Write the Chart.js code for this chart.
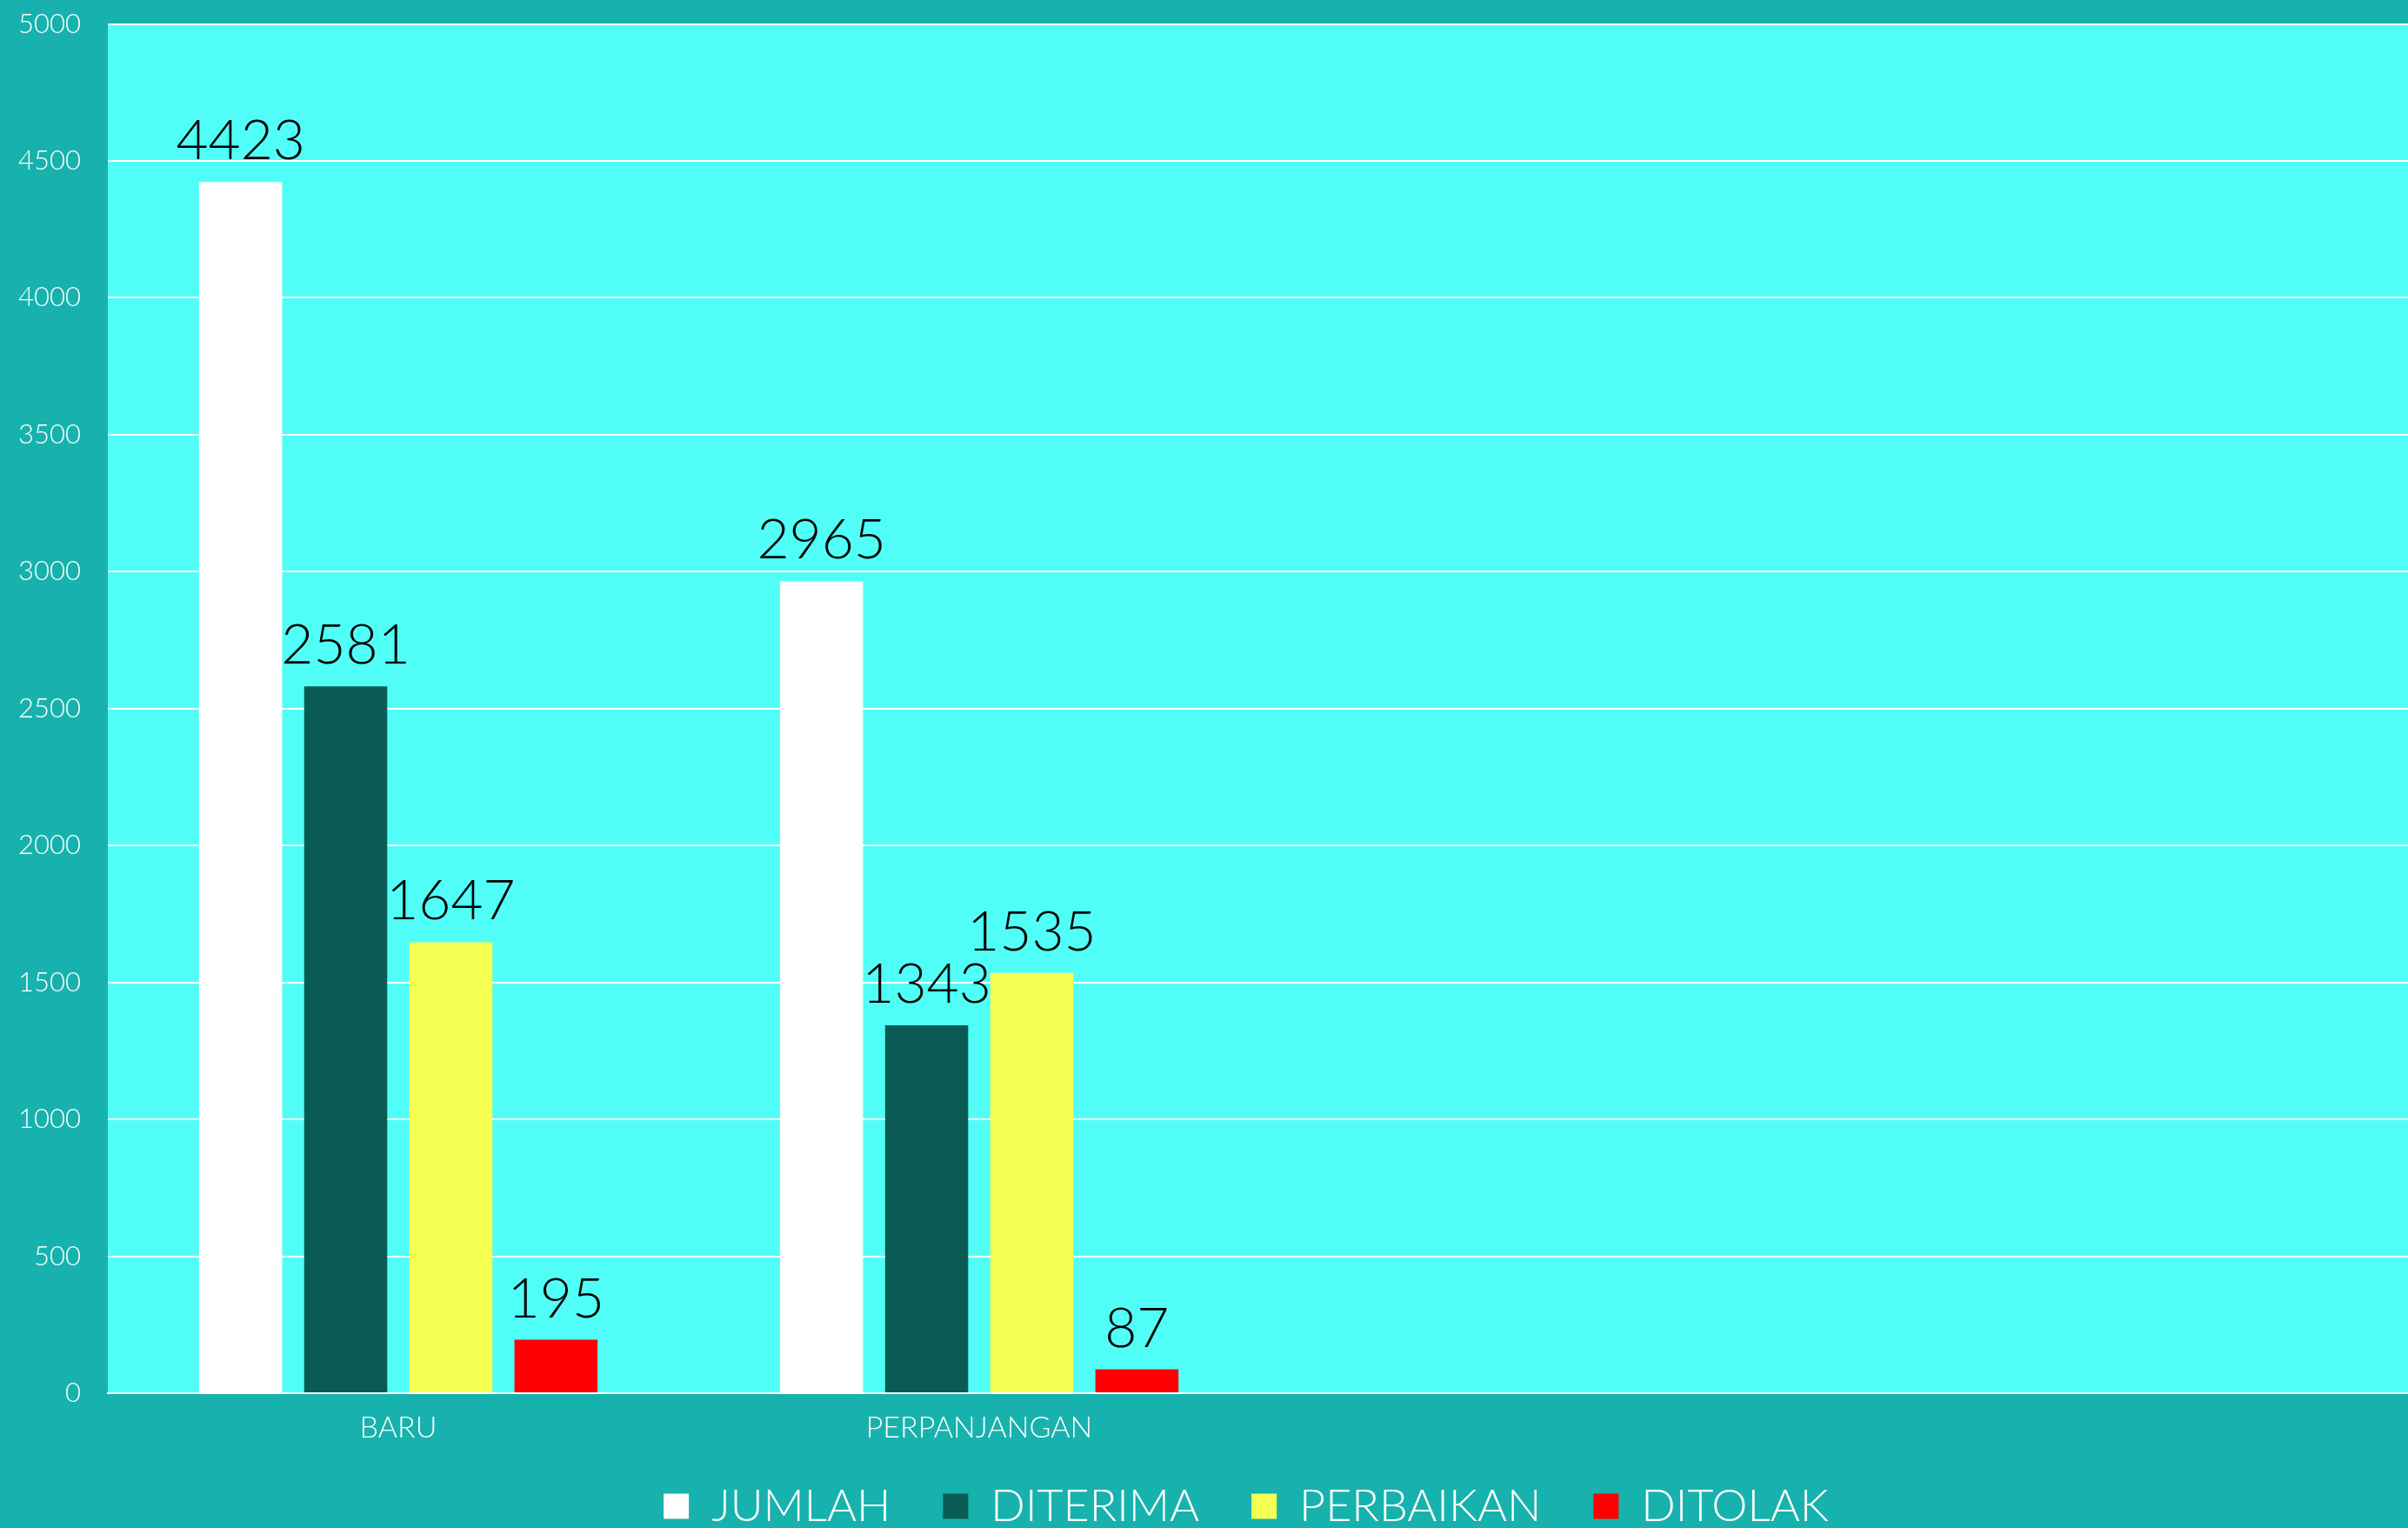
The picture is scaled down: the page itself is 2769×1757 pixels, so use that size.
<!DOCTYPE html>
<html>
<head>
<meta charset="utf-8">
<script src="https://cdn.jsdelivr.net/npm/chart.js@4.4.1/dist/chart.umd.min.js"></script>
<style>
  html, body { margin: 0; padding: 0; overflow: hidden; background: #17B2AD; }
  #wrap { position: relative; width: 2866px; height: 1818px; margin-top: -22px; }
</style>
</head>
<body>
<div id="wrap"><canvas id="chart"></canvas></div>
<script>
// Data
const categories = ['BARU', 'PERPANJANGAN', '', ''];
const jumlah = [4423, 2965];
const diterima = [2581, 1343];
const perbaikan = [1647, 1535];
const ditolak = [195, 87];
const seriesNames = ['JUMLAH', 'DITERIMA', 'PERBAIKAN', 'DITOLAK'];

const FONT = "Lato, 'Open Sans', sans-serif";

// Fill the plot area with the cyan panel
const plotBackground = {
    id: 'plotBackground',
    beforeDraw(chart) {
        const { ctx, chartArea } = chart;
        ctx.save();
        ctx.fillStyle = '#50FEF7';
        ctx.fillRect(chartArea.left, chartArea.top, chartArea.right - chartArea.left, chartArea.bottom - chartArea.top);
        ctx.restore();
    }
};

// Nudge the legend up (closer to the axis labels) and a bit to the right
const legendNudge = {
    id: 'legendNudge',
    afterLayout(chart) {
        const lg = chart.legend;
        if (!lg) return;
        lg.top -= 28; lg.bottom -= 28;
        lg.left += 35; lg.right += 35;
    }
};

// Value labels above each bar
const valueLabels = {
    id: 'valueLabels',
    afterDatasetsDraw(chart) {
        const { ctx } = chart;
        ctx.save();
        ctx.fillStyle = '#000';
        ctx.font = `300 64px ${FONT}`;
        ctx.textAlign = 'center';
        ctx.textBaseline = 'alphabetic';
        chart.data.datasets.forEach((ds, i) => {
            const meta = chart.getDatasetMeta(i);
            meta.data.forEach((bar, j) => {
                const v = ds.data[j];
                if (v === null || v === undefined) return;
                ctx.fillText(String(v), bar.x, bar.y - 26);
            });
        });
        ctx.restore();
    }
};

new Chart(document.getElementById('chart'), {
    type: 'bar',
    data: {
        labels: categories,
        datasets: [
            { label: seriesNames[0], data: jumlah, backgroundColor: '#FFFFFF' },
            { label: seriesNames[1], data: diterima, backgroundColor: '#0B5B55' },
            { label: seriesNames[2], data: perbaikan, backgroundColor: '#F4FF52' },
            { label: seriesNames[3], data: ditolak, backgroundColor: '#FF0000' }
        ]
    },
    options: {
        responsive: true,
        maintainAspectRatio: false,
        animation: false,
        layout: { padding: { top: 5, right: 70, left: 0, bottom: 0 } },
        datasets: {
            bar: { categoryPercentage: 0.724, barPercentage: 0.79, borderWidth: 0 }
        },
        scales: {
            x: {
                grid: { display: false, drawTicks: false },
                border: { display: true, color: '#FFFFFF', width: 2 },
                ticks: {
                    color: '#FFFFFF',
                    font: { family: FONT, size: 34, weight: 300 },
                    padding: 20,
                    maxRotation: 0,
                    autoSkip: false
                },
                afterFit(scale) { scale.height = 72; }
            },
            y: {
                min: 0,
                max: 5000,
                ticks: {
                    stepSize: 500,
                    color: '#FFFFFF',
                    font: { family: FONT, size: 31, weight: 300 },
                    padding: 31,
                    callback: (v) => String(v)
                },
                grid: { color: '#FFFFFF', lineWidth: 2, drawTicks: false },
                border: { display: false },
                afterFit(scale) { scale.width = 124; }
            }
        },
        plugins: {
            legend: {
                position: 'bottom',
                labels: {
                    color: '#FFFFFF',
                    font: { family: FONT, size: 52, weight: 300 },
                    boxWidth: 29,
                    boxHeight: 29,
                    padding: 60
                }
            },
            tooltip: { enabled: false }
        }
    },
    plugins: [plotBackground, legendNudge, valueLabels]
});
</script>
</body>
</html>
